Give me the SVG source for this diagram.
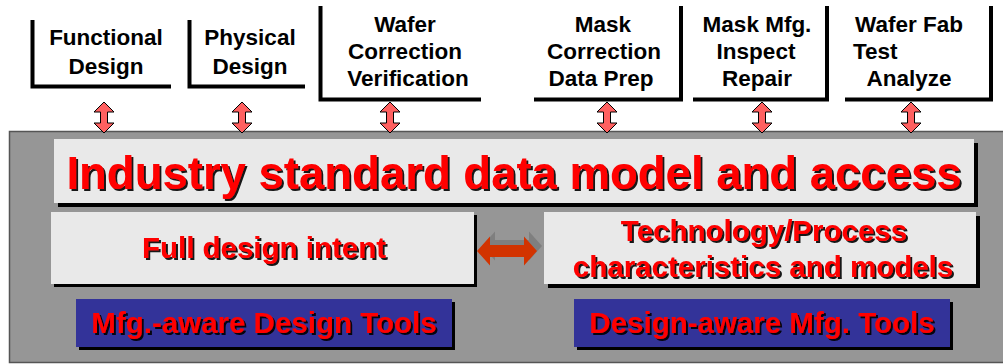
<svg xmlns="http://www.w3.org/2000/svg" width="1003" height="364" viewBox="0 0 1003 364">
<defs>
<style>
.top{font-family:"Liberation Sans",Arial,sans-serif;font-weight:bold;font-size:22.5px;fill:#000;text-anchor:middle}
.bk{fill:none;stroke:#000;stroke-width:4}
.red{font-family:"Liberation Sans",Arial,sans-serif;font-weight:bold;fill:#ff0000;text-anchor:middle;filter:url(#ts)}
.box{fill:#e9e9e9}
.sh{fill:#000}
.blue{fill:#333399}
.va{fill:#ff6060;stroke:#000;stroke-width:1}
</style>
<filter id="ts" x="-5%" y="-20%" width="110%" height="150%">
<feDropShadow dx="2" dy="2" stdDeviation="0.3" flood-color="#000" flood-opacity="0.9"/>
</filter>
<path id="varrow" d="M0,0 L10,10 L3.5,10 L3.5,21 L10,21 L0,31 L-10,21 L-3.5,21 L-3.5,10 L-10,10 Z"/>
</defs>
<rect width="1003" height="364" fill="#fff"/>
<g id="panel">
<rect x="9.5" y="131.5" width="1000" height="231" fill="#969696" stroke="#555" stroke-width="1.5"/>
</g>
<g id="functional-design">
<path class="bk" d="M32.5,20 V86.5 H171"/>
<text class="top" x="106" y="45">Functional</text>
<text class="top" x="106" y="74">Design</text>
</g>
<g id="physical-design">
<path class="bk" d="M189.5,20 V86.5 H305"/>
<text class="top" x="250" y="45">Physical</text>
<text class="top" x="250" y="74">Design</text>
</g>
<g id="wafer-correction">
<path class="bk" d="M320.5,6 V99.5 H481"/>
<text class="top" x="405" y="32">Wafer</text>
<text class="top" x="405" y="59">Correction</text>
<text class="top" x="408" y="86">Verification</text>
</g>
<g id="mask-correction">
<path class="bk" d="M534,99.5 H681 V6"/>
<text class="top" x="603" y="32">Mask</text>
<text class="top" x="604" y="59">Correction</text>
<text class="top" x="601" y="86">Data Prep</text>
</g>
<g id="mask-mfg">
<path class="bk" d="M693,99.5 H827 V6"/>
<text class="top" x="757" y="32">Mask Mfg.</text>
<text class="top" x="756" y="59">Inspect</text>
<text class="top" x="757" y="86">Repair</text>
</g>
<g id="wafer-fab">
<path class="bk" d="M845,99.5 H991 V6"/>
<text class="top" x="909" y="32">Wafer Fab</text>
<text class="top" x="853" y="59" style="text-anchor:start">Test</text>
<text class="top" x="909" y="86">Analyze</text>
</g>
<g id="data-model">
<rect class="sh" x="58" y="143" width="920" height="64"/>
<rect class="box" x="54" y="139" width="920" height="64"/>
<text class="red" x="514" y="189" font-size="45.5">Industry standard data model and access</text>
</g>
<g id="full-design-intent">
<rect class="sh" x="54" y="215" width="423" height="72"/>
<rect class="box" x="51" y="212" width="423" height="72"/>
<text class="red" x="264" y="258" font-size="29.5">Full design intent</text>
</g>
<g id="technology-process">
<rect class="sh" x="548" y="216" width="432" height="72"/>
<rect class="box" x="544" y="212" width="432" height="72"/>
<text class="red" x="764" y="241" font-size="29.5">Technology/Process</text>
<text class="red" x="763" y="277" font-size="29.5">characteristics and models</text>
</g>
<g id="mfg-aware-design-tools">
<rect class="sh" x="79" y="302" width="376" height="48"/>
<rect class="blue" x="76" y="299" width="376" height="48"/>
<text class="red" x="264" y="333" font-size="29.5">Mfg.-aware Design Tools</text>
</g>
<g id="design-aware-mfg-tools">
<rect class="sh" x="577" y="302" width="376" height="48"/>
<rect class="blue" x="574" y="299" width="376" height="48"/>
<text class="red" x="762" y="333" font-size="29.5">Design-aware Mfg. Tools</text>
</g>
<g id="connectors">
<use href="#varrow" class="va" x="104" y="102"/>
<use href="#varrow" class="va" x="242" y="102"/>
<use href="#varrow" class="va" x="390" y="102"/>
<use href="#varrow" class="va" x="607" y="102"/>
<use href="#varrow" class="va" x="762" y="102"/>
<use href="#varrow" class="va" x="911" y="102"/>
<path fill="#7f7f7f" d="M482,246 L495,231.5 L495,240 L529,240 L529,231.5 L542,246 L529,260.5 L529,252 L495,252 L495,260.5 Z"/>
<path fill="#d23300" d="M477,251 L490,236.5 L490,245 L524,245 L524,236.5 L537,251 L524,265.5 L524,257 L490,257 L490,265.5 Z"/>
</g>
</svg>
